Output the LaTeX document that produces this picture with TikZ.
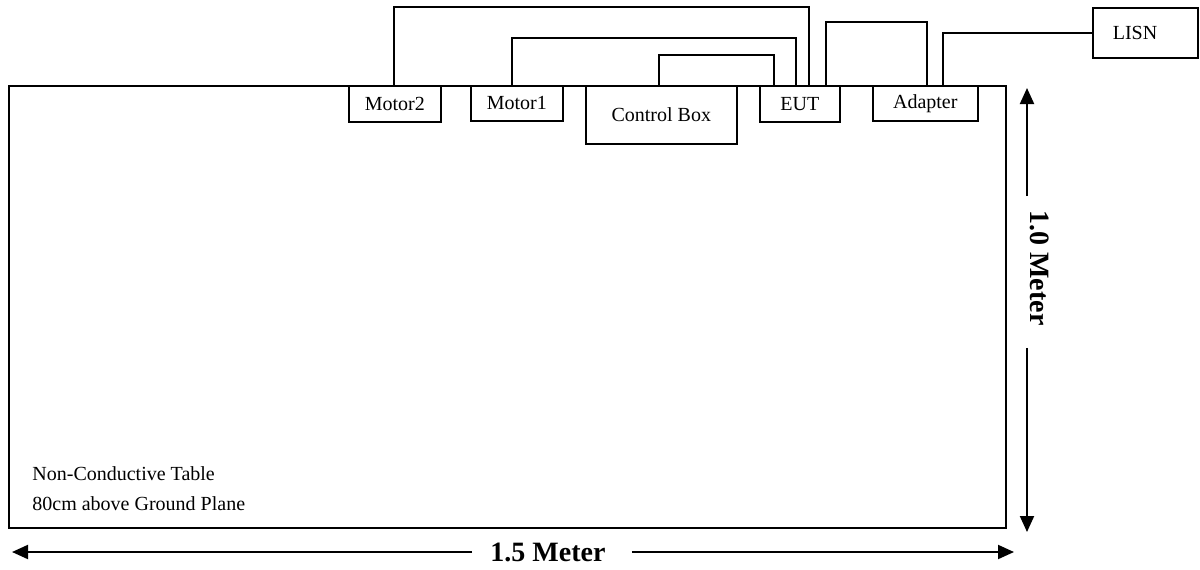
\documentclass[tikz,border=0pt]{standalone}
\usepackage{fontspec}
\setmainfont{Liberation Serif}
\usetikzlibrary{calc,arrows.meta}
\begin{document}
\begin{tikzpicture}[x=0.5pt,y=-0.5pt,
  box/.style={draw, line width=0.8pt, inner sep=0pt, anchor=north west, font=\fontsize{10}{12}\selectfont},
  wire/.style={draw, line width=0.8pt},
  dimline/.style={line width=1pt, -{Triangle[length=8pt,width=7pt]}},
  dimtext/.style={inner sep=0pt, font=\fontsize{14}{16}\selectfont\bfseries},
  tabletext/.style={inner sep=0pt, anchor=base west, font=\fontsize{10}{12}\selectfont}]
\useasboundingbox (0,0) rectangle (1200,569);
% table
\node[draw, line width=1pt, inner sep=0pt, anchor=north west, minimum width=498.5pt, minimum height=221pt] (table) at (8,85) {};
% equipment
\node[box, minimum width=46pt, minimum height=18pt] (m2) at (348,85) {Motor2};
\node[box, minimum width=46pt, minimum height=17.5pt] (m1) at (470,85) {Motor1};
\node[box, minimum width=75.5pt, minimum height=29pt] (cb) at (585,85) {Control Box};
\node[box, minimum width=40pt, minimum height=18pt] (eut) at (759,85) {EUT};
\node[box, minimum width=52.5pt, minimum height=17.5pt] (ad) at (872,85) {Adapter};
\node[box, minimum width=52.5pt, minimum height=25pt, text width=32.5pt, inner xsep=10pt, align=left] (lisn) at (1092,7) {LISN};
% wires
\draw[wire] ($(m2.north)+(-1,0)$) -- ++(0,-78) -| ($(eut.north)+(9,0)$);
\draw[wire] ($(m1.north)+(-5,0)$) -- ++(0,-47) -| ($(eut.north)+(-4,0)$);
\draw[wire] ($(cb.north)+(-2.5,0)$) -- ++(0,-30) -| ($(eut.north)+(-26,0)$);
\draw[wire] ($(eut.north)+(26,0)$) -- ++(0,-63) -| ($(ad.north)+(1.5,0)$);
\draw[wire] ($(ad.north)+(17.5,0)$) |- (lisn.west);
% table text
\node[tabletext] (t1) at (32,480) {Non-Conductive Table};
\node[tabletext] (t2) at (32,510) {80cm above Ground Plane};
% dimensions
\node[dimtext] (w15) at (548,552) {1.5 Meter};
\coordinate (hL) at (12,552);
\coordinate (hR) at (1014,552);
\draw[dimline] (w15.west) ++(-18,0) -- (hL);
\draw[dimline] (w15.east) ++(26,0) -- (hR);
\node[dimtext, rotate=-90] (h10) at (1040,268) {1.0 Meter};
\coordinate (vT) at (1027,88);
\coordinate (vB) at (1027,532);
\draw[dimline] ($(h10.west)+(-13,-14)$) -- (vT);
\draw[dimline] ($(h10.east)+(-13,22)$) -- (vB);
\end{tikzpicture}
\end{document}
